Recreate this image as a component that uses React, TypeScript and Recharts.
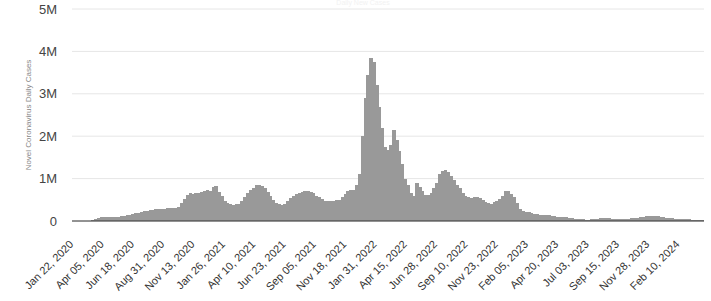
import { BarChart, Bar, XAxis, YAxis, CartesianGrid } from 'recharts'

// weekly level of daily new cases, in thousands; week 0 starts Jan 22, 2020
const weeks2020 = [
  1, 3, 3, 6, 2, 2, 5, 20, 45, 75, 85, 95, 90, 88, 90, 95, 105, 110, 120, 130,
  150, 165, 185, 200, 215, 225, 245, 260, 270, 280, 285, 290, 292, 295, 300, 305, 315, 330, 420, 520,
  620, 650, 640, 650, 670, 690, 700, 720, 700,
]
const weeks2021 = [
  800, 820, 690, 580, 470, 430, 400, 380, 390, 410, 480, 570, 650, 720, 790, 840, 860, 820, 770, 680,
  580, 490, 430, 390, 380, 400, 480, 540, 600, 640, 670, 690, 700, 710, 680, 650, 600, 560, 510, 480,
  470, 470, 480, 490, 500, 560, 630, 700, 720, 740, 850, 1100,
]
const weeks2022 = [
  2000, 2900, 3450, 3850, 3750, 3200, 2700, 2200, 1750, 1670, 1800, 2150, 1900, 1650, 1350, 1000, 850, 650, 600, 900,
  800, 700, 620, 610, 650, 780, 900, 1100, 1180, 1200, 1150, 1060, 960, 860, 780, 660, 600, 570, 540, 570,
  570, 540, 500, 450, 430, 410, 440, 480, 520, 580, 700, 700,
]
const weeks2023 = [
  640, 560, 430, 280, 245, 220, 210, 190, 170, 160, 150, 145, 135, 130, 125, 120, 105, 95, 88, 85,
  80, 65, 55, 50, 42, 37, 33, 32, 40, 46, 55, 60, 60, 60, 60, 52, 45, 42, 40, 42,
  45, 45, 60, 70, 80, 95, 105, 115, 120, 125, 125, 115,
]
const weeks2024 = [100, 90, 80, 70, 60, 55, 50, 45, 42, 40, 38, 34, 30, 26, 20, 18]

const tickLabels = [
  'Jan 22, 2020', 'Apr 05, 2020', 'Jun 18, 2020', 'Aug 31, 2020', 'Nov 13, 2020',
  'Jan 26, 2021', 'Apr 10, 2021', 'Jun 23, 2021', 'Sep 05, 2021', 'Nov 18, 2021',
  'Jan 31, 2022', 'Apr 15, 2022', 'Jun 28, 2022', 'Sep 10, 2022', 'Nov 23, 2022',
  'Feb 05, 2023', 'Apr 20, 2023', 'Jul 03, 2023', 'Sep 15, 2023', 'Nov 28, 2023',
  'Feb 10, 2024',
]
const yTicks = [0, 1000000, 2000000, 3000000, 4000000, 5000000]

const TICK_STEP = 74 // days between date labels
const LAST_DAY = 1542 // Apr 12, 2024

const weekly = [...weeks2020, ...weeks2021, ...weeks2022, ...weeks2023, ...weeks2024]
const data = weekly.map((k, w) => ({ day: w * 7 + 2, cases: k * 1000 }))
const xTicks = tickLabels.map((_, i) => i * TICK_STEP)

const FONT = '"Liberation Sans", Arial, sans-serif'

const DateTick = (props: any) => {
  const { x, y, payload } = props
  const label = tickLabels[Math.round(payload.value / TICK_STEP)]
  const ax = x + 2
  const ay = y + 24
  return (
    <text x={ax} y={ay} transform={`rotate(-45, ${ax}, ${ay})`} textAnchor="end"
      fontSize={11} fill="#333" fontFamily={FONT}>
      {label}
    </text>
  )
}

// weekly bars are a bit under 3px wide; widen them so neighbours touch
const SolidBar = (props: any) => {
  const { x, y, width, height, fill } = props
  if (!height || height <= 0) return null
  const cx = x + width / 2
  return <rect x={cx - 1.75} y={y} width={3.5} height={height} fill={fill} shapeRendering="crispEdges" />
}

const fmtCases = (v: number) => (v === 0 ? '0' : `${v / 1000000}M`)

export default function App() {
  return (
    <div style={{ position: 'absolute', left: 0, top: 0, width: 711, height: 301, fontFamily: FONT }}>
      <div style={{ position: 'absolute', top: -1, left: 0, width: 726, textAlign: 'center', fontSize: 7, lineHeight: '8px', color: '#f2f2f2' }}>
        Daily New Cases
      </div>
      <BarChart width={711} height={301} data={data} margin={{ top: 9, right: 7, bottom: 0, left: 0 }} barCategoryGap={0} barGap={0}>
        <CartesianGrid vertical={false} stroke="#e6e6e6" />
        <XAxis
          dataKey="day"
          type="number"
          domain={[-0.5, LAST_DAY + 0.5]}
          allowDataOverflow
          ticks={xTicks}
          interval={0}
          tick={<DateTick />}
          tickLine={false}
          tickSize={0}
          tickMargin={0}
          axisLine={{ stroke: '#333' }}
          height={80}
        />
        <YAxis
          width={72}
          domain={[0, 5000000]}
          ticks={yTicks}
          tickFormatter={fmtCases}
          tick={{ fontSize: 13, fill: '#444', fontFamily: FONT }}
          axisLine={false}
          tickLine={false}
          tickSize={0}
          tickMargin={15}
          label={{
            value: 'Novel Coronavirus Daily Cases',
            angle: -90,
            position: 'center',
            dx: -8,
            fontSize: 8,
            fill: '#888',
            fontFamily: FONT,
          }}
        />
        <Bar dataKey="cases" fill="#999999" barSize={3} shape={<SolidBar />} isAnimationActive={false} />
      </BarChart>
    </div>
  )
}
